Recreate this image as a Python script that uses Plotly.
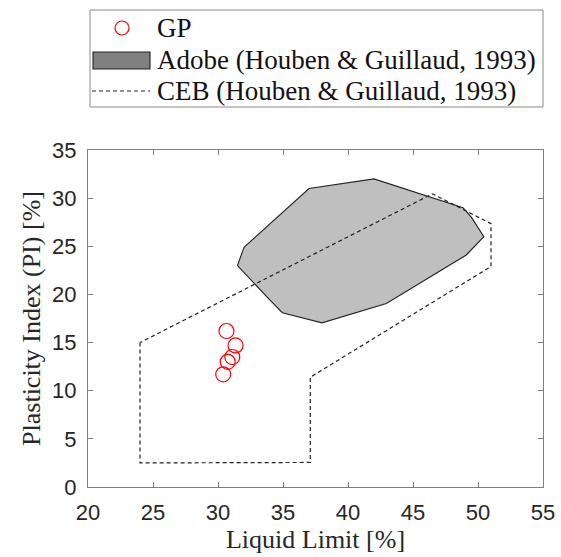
import plotly.graph_objects as go

# GP data
gp_ll = [30.65, 31.35, 31.1, 30.75, 30.4]
gp_pi = [16.2, 14.7, 13.5, 13.0, 11.7]

# Adobe zone (Houben & Guillaud, 1993)
adobe_ll = [31.5, 32.0, 37.0, 42.0, 48.85, 49.5, 50.45, 49.1, 42.95, 38.0, 34.95, 34.0, 31.5]
adobe_pi = [23.0, 24.9, 31.0, 32.0, 29.0, 28.0, 26.0, 24.1, 19.05, 17.05, 18.1, 19.4, 23.0]

# CEB zone (Houben & Guillaud, 1993)
ceb_ll = [24.0, 24.0, 37.1, 37.1, 51.0, 51.0, 46.5, 24.0]
ceb_pi = [15.0, 2.5, 2.55, 11.4, 22.9, 27.35, 30.45, 15.0]

x_ticks = [20, 25, 30, 35, 40, 45, 50, 55]
y_ticks = [0, 5, 10, 15, 20, 25, 30, 35]

legend_labels = ["GP", "Adobe (Houben &amp; Guillaud, 1993)", "CEB (Houben &amp; Guillaud, 1993)"]

W, H = 561, 557
ML, MR, MT, MB = 88, 18, 150, 70
PW, PH = W - ML - MR, H - MT - MB

def px(xp):
    return (xp - ML) / PW

def py(yp):
    return (H - MB - yp) / PH

serif = "Liberation Serif, DejaVu Serif, serif"
ink = "#222222"

fig = go.Figure()
fig.add_trace(go.Scatter(
    x=adobe_ll, y=adobe_pi, mode="lines", fill="toself", name=legend_labels[1],
    fillcolor="#bfbfbf", line=dict(color=ink, width=1.1), showlegend=False,
))
fig.add_trace(go.Scatter(
    x=ceb_ll, y=ceb_pi, mode="lines", name=legend_labels[2],
    line=dict(color=ink, width=1.2, dash="4px,3px"), showlegend=False,
))
fig.add_trace(go.Scatter(
    x=gp_ll, y=gp_pi, mode="markers", name=legend_labels[0],
    marker=dict(symbol="circle-open", size=15, color="red", line=dict(width=1.2, color="red")),
    showlegend=False,
))

# Legend box drawn manually (MATLAB-style)
shapes = [
    dict(type="rect", xref="paper", yref="paper", x0=px(90), x1=px(543), y0=py(107), y1=py(10),
         line=dict(color="#8a8a8a", width=1), fillcolor="white", layer="above"),
    dict(type="circle", xref="paper", yref="paper", xsizemode="pixel", ysizemode="pixel",
         xanchor=px(122), yanchor=py(28), x0=-7, x1=7, y0=-7, y1=7,
         line=dict(color="red", width=1.2), layer="above"),
    dict(type="rect", xref="paper", yref="paper", x0=px(93), x1=px(150), y0=py(69), y1=py(52),
         line=dict(color=ink, width=1.1), fillcolor="#808080", layer="above"),
    dict(type="line", xref="paper", yref="paper", x0=px(92), x1=px(150), y0=py(91), y1=py(91),
         line=dict(color=ink, width=1.2, dash="4px,3px"), layer="above"),
]
annotations = []
for lab, ypix in zip(legend_labels, [28, 60, 91]):
    annotations.append(dict(
        text=lab, xref="paper", yref="paper", x=px(155), y=py(ypix),
        xanchor="left", yanchor="middle", showarrow=False,
        font=dict(family=serif, size=27, color="#111111"),
    ))

axis_common = dict(
    showline=True, mirror="ticks", linecolor="#7f7f7f", linewidth=1,
    ticks="inside", ticklen=5, tickcolor="#7f7f7f",
    showgrid=False, zeroline=False, automargin=False,
    tickfont=dict(family="Liberation Sans, Arial", size=22, color="#262626"),
)

fig.update_layout(
    width=W, height=H,
    margin=dict(l=ML, r=MR, t=MT, b=MB),
    plot_bgcolor="white", paper_bgcolor="white",
    xaxis=dict(range=[20, 55], tickvals=x_ticks, ticklabelstandoff=6, **axis_common,
               title=dict(text="Liquid Limit [%]", standoff=4,
                          font=dict(family=serif, size=26, color="#262626"))),
    yaxis=dict(range=[0, 35], tickvals=y_ticks, ticklabelstandoff=6, **axis_common,
               title=dict(text="Plasticity Index (PI) [%]", standoff=4,
                          font=dict(family=serif, size=26, color="#262626"))),
    shapes=shapes,
    annotations=annotations,
    showlegend=False,
)

fig.write_html("out.html")
